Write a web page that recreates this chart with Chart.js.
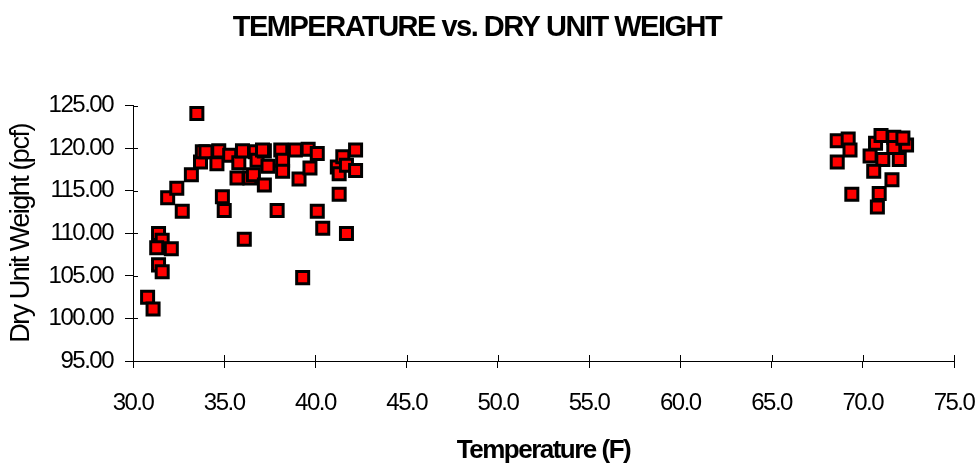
<!DOCTYPE html>
<html lang="en">
<head>
  <meta charset="UTF-8">
  <title>Temperature vs. Dry Unit Weight</title>
  <script src="https://cdn.jsdelivr.net/npm/chart.js"></script>
  <style>
    body {
      margin: 0;
      background: #fff;
    }
    #wrap {
      width: 977px;
      height: 466px;
    }
  </style>
</head>
<body>
  <div id="wrap"><canvas id="tempChart" width="977" height="466"></canvas></div>

  <script>
    // Field readings: temperature (F) and dry unit weight (pcf)
    const tempF = [
      30.8, 31.1, 31.4, 31.6, 31.4, 31.6, 31.3, 32.1, 31.9, 32.4,
      32.7, 33.2, 33.5, 33.7, 33.8, 34.0, 34.7, 34.6, 35.3, 35.8,
      36.0, 36.7, 36.8, 37.2, 37.4, 35.7, 36.4, 36.6, 37.2, 34.9,
      35.0, 36.1, 37.9, 38.1, 38.2, 38.2, 38.9, 39.1, 39.6, 39.7,
      40.1, 40.1, 40.4, 39.3, 41.2, 41.3, 41.3, 41.5, 41.7, 41.7,
      42.2, 42.2, 37.1,
      68.6, 69.2, 69.3, 68.6, 69.4, 70.7, 70.4, 71.1, 70.6, 71.6,
      70.9, 70.8, 71.0, 71.7, 71.7, 72.0, 72.4, 72.2
    ];
    const dryUnitWeight = [
      102.5, 101.1, 106.3, 105.5, 110.0, 109.2, 108.3, 108.2, 114.2, 115.3,
      112.6, 116.9, 124.1, 118.4, 119.6, 119.6, 119.7, 118.2, 119.2, 118.3,
      119.7, 119.6, 118.6, 119.7, 117.9, 116.5, 116.5, 116.9, 115.7, 114.3,
      112.7, 109.3, 112.7, 119.8, 118.6, 117.3, 119.8, 116.4, 119.9, 117.7,
      119.4, 112.6, 110.6, 104.8, 117.8, 117.0, 114.6, 119.0, 118.0, 110.0,
      119.8, 117.4, 119.8,
      120.9, 121.1, 119.8, 118.4, 114.6, 120.6, 119.1, 118.7, 117.3, 116.3,
      114.7, 113.1, 121.5, 121.3, 120.1, 118.7, 120.4, 121.2
    ];

    // Axis ranges and tick spacing
    const xRange = [30, 75];
    const xStep = 5;
    const yRange = [95, 125];
    const yStep = 5;

    const points = tempF.map((t, i) => ({ x: t, y: dryUnitWeight[i] }));

    const family = "'Liberation Sans', Arial, sans-serif";

    // Tighter letters for all chart text (set before layout measures it)
    const tightText = {
      id: 'tightText',
      beforeUpdate(chart) { chart.ctx.letterSpacing = '-1.5px'; },
      beforeDraw(chart) { chart.ctx.letterSpacing = '-1.5px'; }
    };

    // Tick marks that cross the axis: the part inside the plot area
    const innerTicks = {
      id: 'innerTicks',
      afterDraw(chart) {
        const { ctx, chartArea, scales } = chart;
        ctx.save();
        ctx.strokeStyle = '#000';
        ctx.lineWidth = 1;
        ctx.beginPath();
        scales.x.ticks.forEach(t => {
          const px = Math.round(scales.x.getPixelForValue(t.value)) + 0.5;
          ctx.moveTo(px, chartArea.bottom);
          ctx.lineTo(px, chartArea.bottom - 6);
        });
        scales.y.ticks.forEach(t => {
          const py = Math.round(scales.y.getPixelForValue(t.value)) + 0.5;
          ctx.moveTo(chartArea.left, py);
          ctx.lineTo(chartArea.left + 5, py);
        });
        ctx.stroke();
        ctx.restore();
      }
    };

    const ctx = document.getElementById('tempChart').getContext('2d');
    new Chart(ctx, {
      type: 'scatter',
      data: {
        datasets: [{
          label: 'Dry Unit Weight',
          data: points,
          pointStyle: 'rect',
          radius: 8.5,
          hoverRadius: 8.5,
          backgroundColor: '#ff0000',
          borderColor: '#000000',
          borderWidth: 3
        }]
      },
      options: {
        responsive: false,
        devicePixelRatio: 1,
        animation: false,
        layout: { padding: { left: 0, right: 23, top: 0, bottom: 0 } },
        plugins: {
          legend: { display: false },
          tooltip: { enabled: false },
          title: {
            display: true,
            text: 'TEMPERATURE vs. DRY UNIT WEIGHT',
            color: '#000',
            font: { family: family, size: 29, weight: 'bold' },
            padding: { top: 11, bottom: 60 }
          }
        },
        scales: {
          x: {
            type: 'linear',
            min: xRange[0],
            max: xRange[1],
            afterFit(scale) {
              scale.height = 105;
              scale.paddingLeft = 0;
              scale.paddingRight = 0;
            },
            grid: {
              drawOnChartArea: false,
              drawTicks: true,
              tickLength: 7,
              color: '#000'
            },
            border: { color: '#000', width: 1 },
            ticks: {
              stepSize: xStep,
              color: '#000',
              padding: 21,
              font: { family: family, size: 24 },
              callback: v => v.toFixed(1)
            },
            title: {
              display: true,
              text: 'Temperature (F)',
              color: '#000',
              font: { family: family, size: 26, weight: 'bold' },
              padding: { top: 6, bottom: 0 }
            }
          },
          y: {
            type: 'linear',
            min: yRange[0],
            max: yRange[1],
            afterFit(scale) {
              scale.width = 133;
              scale.paddingTop = 0;
              scale.paddingBottom = 0;
            },
            grid: {
              drawOnChartArea: false,
              drawTicks: true,
              tickLength: 8,
              color: '#000'
            },
            border: { color: '#000', width: 1 },
            ticks: {
              stepSize: yStep,
              color: '#000',
              padding: 12,
              font: { family: family, size: 24 },
              callback: v => v.toFixed(2)
            },
            title: {
              display: true,
              text: 'Dry Unit Weight (pcf)',
              color: '#000',
              font: { family: family, size: 27 },
              padding: { top: 5, bottom: 0 }
            }
          }
        }
      },
      plugins: [tightText, innerTicks]
    });
  </script>
</body>
</html>
